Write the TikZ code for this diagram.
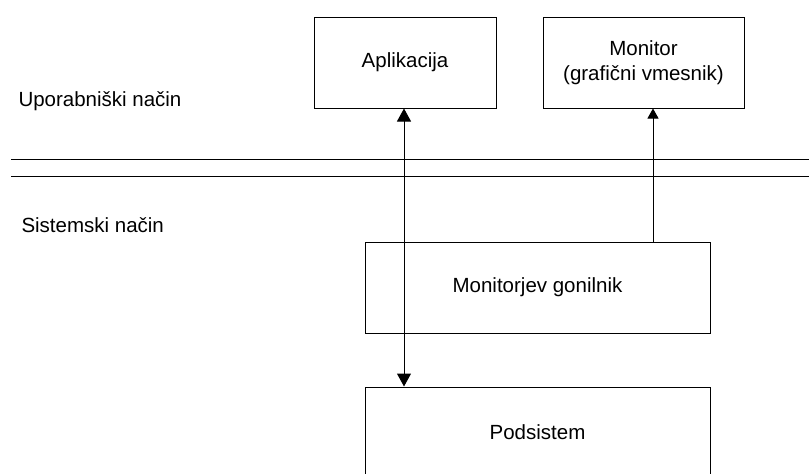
\documentclass[tikz,border=0pt]{standalone}
\usepackage{fontspec}
\setmainfont{Liberation Sans}
\usepackage{tikz}
\usetikzlibrary{arrows.meta}
\tikzset{boxnode/.style={rectangle, draw=black, line width=1pt, minimum height=91pt, inner sep=0pt, align=center},
modenode/.style={anchor=base west, inner sep=0pt}}

\begin{document}
\begin{tikzpicture}[x=1pt, y=-1pt, line width=1pt, font=\fontsize{20.5}{25}\selectfont]
\coordinate (TopLeft) at (0,0);
\coordinate (BottomRight) at (809,474);
\useasboundingbox (TopLeft) rectangle (BottomRight);
\clip (TopLeft) rectangle (BottomRight);

%%% Meja med nacinoma
\draw (11,159) -- (809,159);
\draw (11,176) -- (809,176);

%%% Nacina
\node[modenode] (upo) at (18,106) {Uporabniški način};
\node[modenode] (sis) at (21,232) {Sistemski način};

%%% Okvirji
\node[boxnode, minimum width=182pt] (apl) at (405,62.5) {Aplikacija};
\node[boxnode, minimum width=201pt] (mon) at (643.5,62.5) {Monitor\\(grafični vmesnik)};
\node[boxnode, minimum width=345pt] (gon) at (537.5,287.5) {Monitorjev gonilnik};
\node[boxnode, minimum width=345pt] (pod) at (537.5,432.5) {Podsistem};

%%% Puscici
\coordinate (ax) at (404,0);
\coordinate (mx) at (653,0);
\draw[{Triangle[width=14pt,length=13pt]}-{Triangle[width=14pt,length=13pt]}] (apl.south -| ax) -- (pod.north -| ax);
\draw[-{Triangle[width=11pt,length=10pt]}] (gon.north -| mx) -- (mon.south -| mx);

\end{tikzpicture}
\end{document}
